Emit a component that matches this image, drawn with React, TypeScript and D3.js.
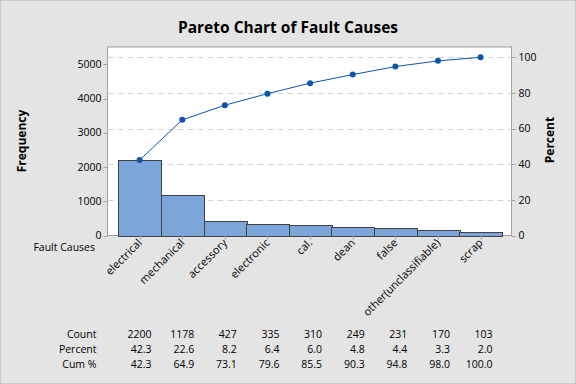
import React from "react";
import * as d3 from "d3";

const categories = ["electrical", "mechanical", "accessory", "electronic", "cal.", "dean", "false", "other(unclassifiable)", "scrap"];
const counts = [2200, 1178, 427, 335, 310, 249, 231, 170, 103];
const percents = ["42.3", "22.6", "8.2", "6.4", "6.0", "4.8", "4.4", "3.3", "2.0"];
const cumPercents = ["42.3", "64.9", "73.1", "79.6", "85.5", "90.3", "94.8", "98.0", "100.0"];
const freqTicks = [0, 1000, 2000, 3000, 4000, 5000];
const pctTicks = [0, 20, 40, 60, 80, 100];
const gridTicks = [20, 40, 60, 80, 100];

const W = 576, H = 384;
const FONT = "'Open Sans', 'Noto Sans', sans-serif";

export default function App() {
  const plotL = 107.5, plotR = 511.5, plotT = 47, plotB = 235.5;
  const total = d3.sum(counts);
  const pctMax = (plotB - plotT) / ((plotB - 57.3) / 100);
  const x = d3.scaleBand<string>().domain(categories).range([118.3, 501.9]).padding(0);
  const yPct = d3.scaleLinear().domain([0, pctMax]).range([plotB, plotT]);
  const yFreq = d3.scaleLinear().domain([0, (total * pctMax) / 100]).range([plotB, plotT]);
  const cx = (c: string) => (x(c) as number) + x.bandwidth() / 2;
  const line = d3.line<number>().x((_, i) => cx(categories[i])).y((d) => yPct(d));
  const cumVals = cumPercents.map(Number);

  const rows: [string, (string | number)[]][] = [
    ["Count", counts],
    ["Percent", percents],
    ["Cum %", cumPercents],
  ];

  return (
    <div style={{ position: "fixed", left: 0, top: 0 }}>
      <svg width={W} height={H} style={{ display: "block", fontFamily: FONT }}>
        <rect x={0.5} y={0.5} width={W - 1} height={H - 1} fill="#e4e4e4" stroke="#c9c9c9" />
        <text x={288} y={33} textAnchor="middle" fontSize={15.5} fontWeight="bold" fill="#000">
          Pareto Chart of Fault Causes
        </text>
        <rect x={plotL} y={plotT} width={plotR - plotL} height={plotB - plotT} fill="#fff" stroke="#a0a0a0" />
        {gridTicks.map((t) => (
          <line key={t} x1={plotL} x2={plotR} y1={Math.round(yPct(t)) + 0.5} y2={Math.round(yPct(t)) + 0.5}
            stroke="#d4d4d4" strokeDasharray="6,4" />
        ))}
        {categories.map((c, i) => (
          <rect key={c} x={Math.round(x(c) as number) + 0.5} y={Math.round(yFreq(counts[i])) + 0.5}
            width={Math.round(x.bandwidth())} height={Math.round(plotB) - Math.round(yFreq(counts[i]))}
            fill="#7ca6d9" stroke="#424242" />
        ))}
        <path d={line(cumVals) || ""} fill="none" stroke="#0b56a8" strokeWidth={1} />
        {cumVals.map((v, i) => (
          <circle key={i} cx={cx(categories[i])} cy={yPct(v)} r={3} fill="#0b56a8" />
        ))}
        {/* left axis */}
        {freqTicks.map((t) => (
          <g key={t}>
            <line x1={plotL - 4} x2={plotL} y1={Math.round(yFreq(t)) + 0.5} y2={Math.round(yFreq(t)) + 0.5} stroke="#a0a0a0" />
            <text x={plotL - 6} y={yFreq(t)} dy="0.35em" textAnchor="end" fontSize={10.5} fill="#000">{t}</text>
          </g>
        ))}
        {/* right axis */}
        {pctTicks.map((t) => (
          <g key={t}>
            <line x1={plotR} x2={plotR + 4} y1={Math.round(yPct(t)) + 0.5} y2={Math.round(yPct(t)) + 0.5} stroke="#a0a0a0" />
            <text x={plotR + 7} y={yPct(t)} dy="0.35em" textAnchor="start" fontSize={10.5} fill="#000">{t}</text>
          </g>
        ))}
        {/* bottom axis */}
        {categories.map((c) => (
          <g key={c}>
            <line x1={Math.round(cx(c)) + 0.5} x2={Math.round(cx(c)) + 0.5} y1={plotB} y2={plotB + 4} stroke="#a0a0a0" />
            <text transform={`translate(${cx(c) + 3},${plotB + 8}) rotate(-45)`} textAnchor="end" fontSize={11} fill="#000">{c}</text>
          </g>
        ))}
        <text x={95} y={250.5} textAnchor="end" fontSize={10.5} fill="#000">Fault Causes</text>
        <text transform={`translate(26,141) rotate(-90)`} textAnchor="middle" fontSize={12} fontWeight="bold" fill="#000">Frequency</text>
        <text transform={`translate(554,140) rotate(-90)`} textAnchor="middle" fontSize={12} fontWeight="bold" fill="#000">Percent</text>
        {rows.map(([label, vals], r) => (
          <g key={label}>
            <text x={96.5} y={338 + r * 15} textAnchor="end" fontSize={10.5} fill="#000">{label}</text>
            {categories.map((c, i) => (
              <text key={c} x={cx(c) + 12} y={338 + r * 15} textAnchor="end" fontSize={10.5} fill="#000">{vals[i]}</text>
            ))}
          </g>
        ))}
      </svg>
    </div>
  );
}
